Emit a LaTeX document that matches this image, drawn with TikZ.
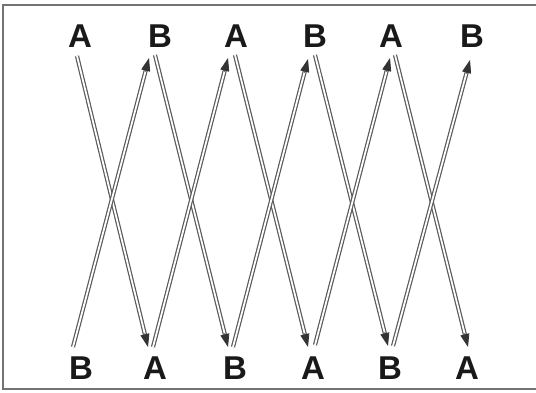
\documentclass[tikz,border=0pt]{standalone}
\usepackage{fontspec}
\setmainfont{Liberation Sans}
\usetikzlibrary{arrows.meta,calc}
\begin{document}
\begin{tikzpicture}[x=1pt,y=1pt,
  lbl/.style={font=\fontsize{33}{33}\selectfont\bfseries, text=black!90, inner sep=0pt, anchor=center},
  dbl/.style={draw=black!65, line width=1.2pt, double=white, double distance=1.8pt, shorten >=9pt},
  tipline/.style={draw=black!80, fill=black!80, line width=0.8pt, -{Triangle[length=13pt,width=9pt]}},
  frame/.style={draw=black!55, line width=1.3pt}]
\useasboundingbox (0,0) rectangle (536,393);
\clip (0,0) rectangle (536,393);
\draw[frame] (3,4) rectangle (560,388);
% labels
\node[lbl] (ta0) at (80,357) {A};
\node[lbl] (tb1) at (160,357) {B};
\node[lbl] (ta2) at (236,357) {A};
\node[lbl] (tb3) at (315,357) {B};
\node[lbl] (ta4) at (391,357) {A};
\node[lbl] (tb5) at (472,357) {B};
\node[lbl] (bb0) at (81,25) {B};
\node[lbl] (ba1) at (155,25) {A};
\node[lbl] (bb2) at (235,25) {B};
\node[lbl] (ba3) at (313,25) {A};
\node[lbl] (bb4) at (390,25) {B};
\node[lbl] (ba5) at (467,25) {A};
% down arrows: start at top, tip at bottom
\coordinate (ds0) at (77,337);  \coordinate (de0) at (148,46);
\coordinate (ds1) at (155,338); \coordinate (de1) at (228,46);
\coordinate (ds2) at (235,338); \coordinate (de2) at (308,46);
\coordinate (ds3) at (315,338); \coordinate (de3) at (388,47);
\coordinate (ds4) at (395,338); \coordinate (de4) at (468,46);
% up arrows: start at bottom, tip at top
\coordinate (us0) at (73,46);  \coordinate (ue0) at (149,335);
\coordinate (us1) at (153,46); \coordinate (ue1) at (228,335);
\coordinate (us2) at (233,46); \coordinate (ue2) at (308,334);
\coordinate (us3) at (315,48); \coordinate (ue3) at (390,335);
\coordinate (us4) at (393,47); \coordinate (ue4) at (470,333);
\foreach \i in {0,...,4}{
  \draw[dbl] (ds\i) -- (de\i);
  \draw[tipline] ($(de\i)!14pt!(ds\i)$) -- (de\i);
  \draw[dbl] (us\i) -- (ue\i);
  \draw[tipline] ($(ue\i)!14pt!(us\i)$) -- (ue\i);
}
\end{tikzpicture}
\end{document}
